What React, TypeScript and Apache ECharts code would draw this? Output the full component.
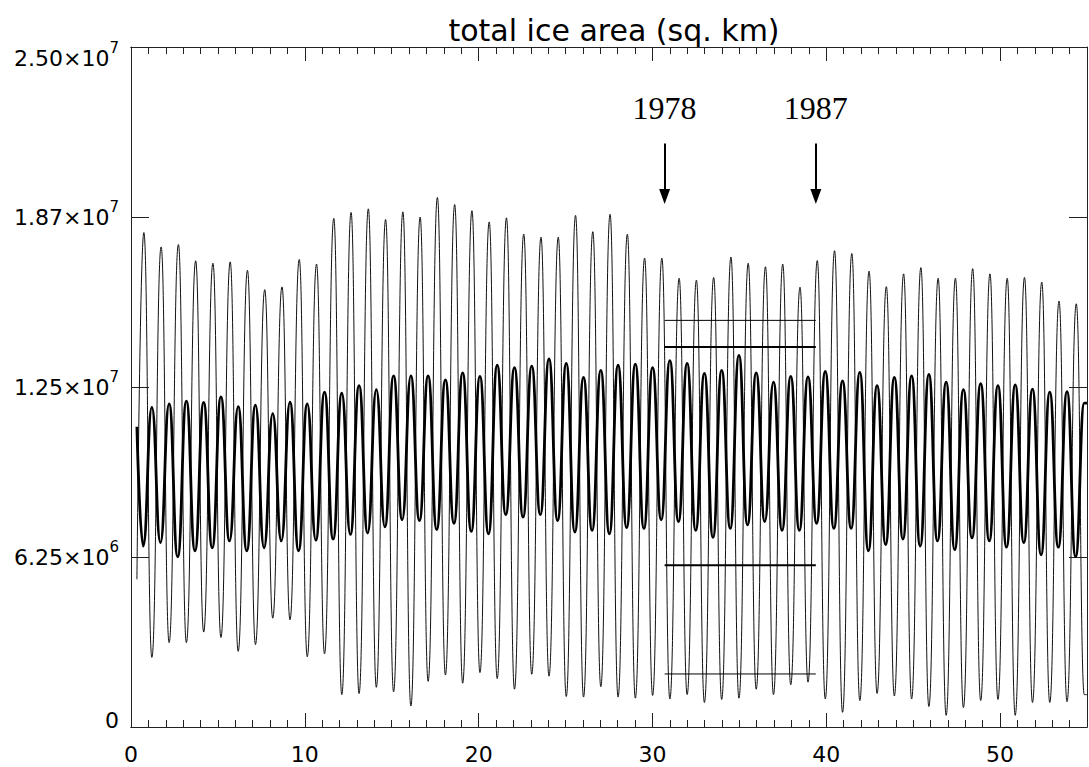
import React, { useEffect, useRef } from "react";
import * as echarts from "echarts";

// ---- data (areas in millions of sq. km) ----
const UNIT = 1e6;
const CYCLE_YEARS = 0.9934; // spacing of successive seasonal extrema
const START_X = 0.34;
const END_X = 55;

// thin curve (large seasonal range)
const THIN_START = 5.43;
const THIN_END = 1.19;
const THIN_PEAK_X0 = 0.74;
const THIN_TROUGH_X0 = 1.2;
const THIN_PEAKS = [
  18.18, 17.65, 17.74, 17.14, 17.05, 17.1, 16.79, 16.08, 16.18, 17.19,
  17.02, 18.7, 18.92, 19.05, 18.66, 18.94, 18.75, 19.47, 19.21, 18.98,
  18.57, 18.72, 18.12, 18.01, 18.01, 18.81, 18.21, 18.85, 18.12, 17.24,
  17.24, 16.5, 16.43, 16.53, 17.28, 17.05, 16.92, 17.02, 16.17, 17.15,
  17.51, 17.41, 16.76, 16.19, 16.66, 16.89, 16.5, 16.5, 16.85, 16.66,
  16.5, 16.53, 16.36, 15.66, 15.56,
];
const THIN_TROUGHS = [
  2.56, 3.1, 3.1, 3.49, 3.29, 2.78, 3.03, 4.0, 3.94, 2.58,
  2.69, 1.19, 1.23, 1.46, 1.29, 0.77, 1.68, 1.91, 1.61, 2.0,
  1.78, 1.39, 1.94, 1.87, 1.12, 1.1, 1.48, 1.1, 1.06, 1.16,
  1.03, 1.19, 0.9, 1.01, 1.06, 1.39, 1.19, 1.55, 1.65, 1.03,
  0.54, 0.97, 1.23, 1.14, 1.03, 0.75, 0.43, 0.71, 0.97, 1.01,
  0.43, 0.9, 0.9, 0.93, 1.19,
];

// thick curve (smaller seasonal range)
const THICK_START = 11.04;
const THICK_END = 11.91;
const THICK_TROUGH_X0 = 0.7;
const THICK_PEAK_X0 = 1.2;
const THICK_TROUGHS = [
  6.65, 6.78, 6.26, 6.48, 6.59, 6.84, 6.48, 6.59, 6.84, 6.48,
  6.87, 6.91, 7.08, 7.13, 7.36, 7.62, 7.59, 7.26, 7.49, 7.19,
  7.1, 7.81, 7.72, 7.81, 7.59, 7.17, 7.23, 7.1, 7.33, 7.3,
  7.62, 7.55, 7.23, 6.97, 7.3, 7.43, 7.55, 7.23, 7.23, 7.49,
  7.3, 7.3, 6.48, 6.71, 6.91, 6.65, 6.84, 6.52, 6.95, 6.84,
  6.61, 6.78, 6.33, 6.61, 6.26,
];
const THICK_PEAKS = [
  11.75, 11.88, 11.98, 11.93, 12.14, 11.78, 11.83, 11.52, 11.94, 11.88,
  12.31, 12.27, 12.55, 12.4, 12.91, 12.91, 12.91, 12.76, 13.02, 12.89,
  13.3, 13.21, 13.27, 13.53, 13.37, 12.85, 13.11, 13.3, 13.34, 13.21,
  13.47, 13.37, 13.0, 13.11, 13.66, 13.02, 12.68, 12.89, 12.87, 13.07,
  12.72, 13.04, 12.55, 12.85, 12.91, 12.96, 12.68, 12.4, 12.62, 12.55,
  12.58, 12.42, 12.31, 12.33, 11.91,
];

// observed-period reference ranges and arrows
const REF_X = [30.7, 39.4];
const REF_THIN_LEVELS = [14.95, 1.95];
const REF_THICK_LEVELS = [13.97, 5.95];
const ARROW_YEARS = ["1978", "1987"];
const ARROW_TOP = 21.45;
const ARROW_BOTTOM = 19.5;

// axes
const X_MIN = 0;
const X_MAX = 55;
const Y_MIN = 0;
const Y_MAX = 2.5e7;
const Y_STEP = 6.25e6;
const Y_TICK_VALUES = [0, 6.25e6, 1.25e7, 1.875e7, 2.5e7];
const Y_TICK_MANT = ["0", "6.25×10", "1.25×10", "1.87×10", "2.50×10"];
const Y_TICK_EXP = ["", "6", "7", "7", "7"];
const TITLE = "total ice area (sq. km)";

function buildCurve(
  start: number,
  x0a: number,
  valsA: number[],
  x0b: number,
  valsB: number[],
  end: number
) {
  const pts: number[][] = [[START_X, start * UNIT]];
  for (let i = 0; i < valsA.length; i++) {
    pts.push([x0a + i * CYCLE_YEARS, valsA[i] * UNIT]);
    pts.push([x0b + i * CYCLE_YEARS, valsB[i] * UNIT]);
  }
  pts.push([END_X, end * UNIT]);
  return pts;
}

const SANS = "DejaVu Sans";
const SERIF = "Liberation Serif";
const AXIS_COLOR = "#222";
const NBSP = "\u00a0";

function xAxisDef(position: "top" | "bottom", interval: number, tickLen: number, labels: boolean) {
  return {
    type: "value",
    position,
    min: X_MIN,
    max: X_MAX,
    interval,
    axisLine: { show: true, onZero: false, lineStyle: { color: AXIS_COLOR, width: 1 } },
    axisTick: { show: true, inside: true, length: tickLen, lineStyle: { color: AXIS_COLOR, width: 1 } },
    axisLabel: labels
      ? {
          show: true,
          showMaxLabel: false,
          margin: 16,
          fontFamily: SANS,
          fontSize: 22,
          color: "#000",
        }
      : { show: false },
    splitLine: { show: false },
  };
}

export default function App() {
  const ref = useRef<HTMLDivElement>(null);

  useEffect(() => {
    if (!ref.current) return;
    const chart = echarts.init(ref.current, null, { renderer: "svg" });

    const thin = buildCurve(THIN_START, THIN_PEAK_X0, THIN_PEAKS, THIN_TROUGH_X0, THIN_TROUGHS, THIN_END);
    const thick = buildCurve(THICK_START, THICK_TROUGH_X0, THICK_TROUGHS, THICK_PEAK_X0, THICK_PEAKS, THICK_END);

    const refSeries = (level: number, width: number, withArrows: boolean) => ({
      type: "line",
      xAxisIndex: 0,
      yAxisIndex: 0,
      data: [
        [REF_X[0], level * UNIT],
        [REF_X[1], level * UNIT],
      ],
      showSymbol: false,
      silent: true,
      lineStyle: { color: "#000", width },
      z: 5,
      markLine: withArrows
        ? {
            silent: true,
            symbol: ["none", "triangle"],
            symbolSize: [11, 15],
            lineStyle: { color: "#000", width: 2, type: "solid" },
            label: {
              show: true,
              position: "start",
              distance: 20,
              formatter: "{b}",
              fontFamily: SERIF,
              fontSize: 32,
              color: "#000",
            },
            emphasis: { disabled: true },
            data: REF_X.map((x, i) => [
              { name: ARROW_YEARS[i], coord: [x, ARROW_TOP * UNIT] },
              { coord: [x, ARROW_BOTTOM * UNIT] },
            ]),
          }
        : undefined,
    });

    chart.setOption({
      animation: false,
      backgroundColor: "#fff",
      title: {
        text: TITLE,
        left: 609,
        top: 10,
        textAlign: "center",
        textStyle: { fontFamily: SANS, fontSize: 30, fontWeight: "normal", color: "#000" },
      },
      grid: { left: 131, right: 2, top: 47, bottom: 40 },
      xAxis: [
        xAxisDef("bottom", 1, 7, false),
        xAxisDef("bottom", 10, 14, true),
        xAxisDef("top", 1, 7, false),
        xAxisDef("top", 10, 14, false),
      ],
      yAxis: [
        {
          type: "value",
          position: "left",
          min: Y_MIN,
          max: Y_MAX,
          interval: Y_STEP,
          axisLine: { show: true, onZero: false, lineStyle: { color: AXIS_COLOR, width: 1 } },
          axisTick: { show: true, inside: true, length: 18, lineStyle: { color: AXIS_COLOR, width: 1 } },
          splitLine: { show: false },
          axisLabel: {
            show: true,
            margin: 12,
            verticalAlignMaxLabel: "top",
            formatter: (v: number) => {
              const i = Y_TICK_VALUES.findIndex((t) => Math.abs(t - v) < 1);
              if (i < 0) return "";
              const mant = Y_TICK_MANT[i];
              const exp = Y_TICK_EXP[i];
              if (!exp) return `{m|${mant}}\n{g0|${NBSP}}`;
              return `{m|${mant}}{e|${exp}}`;
            },
            rich: {
              m: { fontFamily: SANS, fontSize: 22, lineHeight: 22, color: "#000", verticalAlign: "bottom" },
              e: {
                fontFamily: SANS,
                fontSize: 15,
                lineHeight: 15,
                color: "#000",
                verticalAlign: "bottom",
                padding: [0, 0, 14, 0],
              },
              g0: { fontSize: 8, lineHeight: 14, height: 14 },
            },
          },
        },
        {
          type: "value",
          position: "right",
          min: Y_MIN,
          max: Y_MAX,
          interval: Y_STEP,
          axisLine: { show: true, onZero: false, lineStyle: { color: AXIS_COLOR, width: 1 } },
          axisTick: { show: true, inside: true, length: 18, lineStyle: { color: AXIS_COLOR, width: 1 } },
          splitLine: { show: false },
          axisLabel: { show: false },
        },
      ],
      series: [
        {
          type: "line",
          name: "thin",
          xAxisIndex: 0,
          yAxisIndex: 0,
          data: thin,
          showSymbol: false,
          smooth: 0.5,
          smoothMonotone: "x",
          silent: true,
          lineStyle: { color: "#111", width: 1 },
          z: 2,
        },
        {
          type: "line",
          name: "thick",
          xAxisIndex: 0,
          yAxisIndex: 0,
          data: thick,
          showSymbol: false,
          smooth: 0.5,
          smoothMonotone: "x",
          silent: true,
          lineStyle: { color: "#000", width: 2.8 },
          z: 3,
        },
        refSeries(REF_THIN_LEVELS[0], 1, true),
        refSeries(REF_THIN_LEVELS[1], 1, false),
        refSeries(REF_THICK_LEVELS[0], 2, false),
        refSeries(REF_THICK_LEVELS[1], 2, false),
      ],
    });

    return () => chart.dispose();
  }, []);

  return (
    <div
      ref={ref}
      style={{ position: "fixed", left: 0, top: 0, width: 1089, height: 767, background: "#fff" }}
    />
  );
}
